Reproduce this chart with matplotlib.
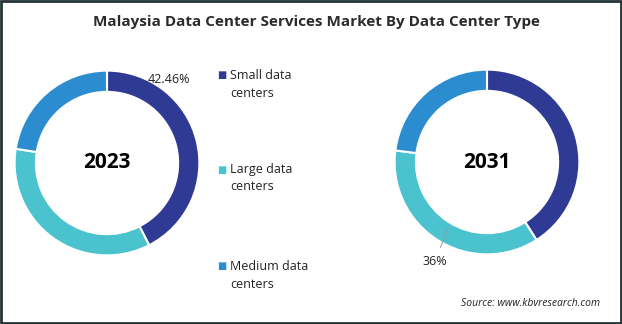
import matplotlib.pyplot as plt
from matplotlib.patches import Rectangle

# Data
segments = ["Small data\ncenters", "Large data\ncenters", "Medium data\ncenters"]
share_2023 = [42.46, 35.0, 22.54]
share_2031 = [41.0, 36.0, 23.0]
years = ["2023", "2031"]
colors = ["#2E3A94", "#4BC3CF", "#2B8DD0"]

W, H = 622, 324
fig = plt.figure(figsize=(W / 100, H / 100), dpi=100)
plt.rcParams['font.family'] = ['Open Sans', 'DejaVu Sans']


def px_axes(cx, cy, r):
    # axes square centred at pixel (cx, cy) measured from top-left
    return fig.add_axes([(cx - r) / W, (H - cy - r) / H, 2 * r / W, 2 * r / H])


def donut(ax, values, year):
    wedges, _ = ax.pie(values, colors=colors, startangle=90, counterclock=False,
                       radius=1.0,
                       wedgeprops=dict(width=0.23, edgecolor="white", linewidth=1.5))
    ax.text(0, 0.0, year, ha="center", va="center", fontsize=15,
            fontweight="bold", color="black")
    ax.set_xlim(-1.05, 1.05)
    ax.set_ylim(-1.05, 1.05)
    ax.set_aspect("equal")
    return wedges


ax1 = px_axes(107, 163, 97)
donut(ax1, share_2023, years[0])
ax1.text(0.67, 0.9, f"{share_2023[0]:.2f}%", ha="center", va="center", fontsize=9,
         color="#222222")

ax2 = px_axes(487, 162, 97)
donut(ax2, share_2031, years[1])
ax2.annotate(f"{share_2031[1]:.0f}%", xy=(-0.42, -0.72), xytext=(-0.57, -1.08),
             ha="center", va="center", fontsize=9, color="#222222",
             arrowprops=dict(arrowstyle="-", color="#999999", lw=0.7,
                             shrinkA=4, shrinkB=0),
             annotation_clip=False)

# Legend, drawn as text with square markers
leg_y = [76, 170, 267]
for lab, col, y in zip(segments, colors, leg_y):
    fig.text(217 / W, 1 - y / H, "\u25A0", color=col, fontsize=7,
             ha="left", va="center")
    fig.text(230 / W, 1 - (y - 7) / H, lab, color="#222222", fontsize=9,
             ha="left", va="top", linespacing=1.45)

fig.text(316 / W, 1 - 22 / H, "Malaysia Data Center Services Market By Data Center Type",
         ha="center", va="center", fontsize=11, fontweight="bold", color="#2b2b2b")
fig.text(600 / W, 1 - 304 / H, "Source: www.kbvresearch.com", ha="right", va="center",
         fontsize=7.5, style="italic", color="#222222")

fig.patches.append(Rectangle((0.0015, 0.003), 0.997, 0.994, transform=fig.transFigure,
                             fill=False, edgecolor="#243434", linewidth=2))

fig.savefig("out.png", dpi=100)
